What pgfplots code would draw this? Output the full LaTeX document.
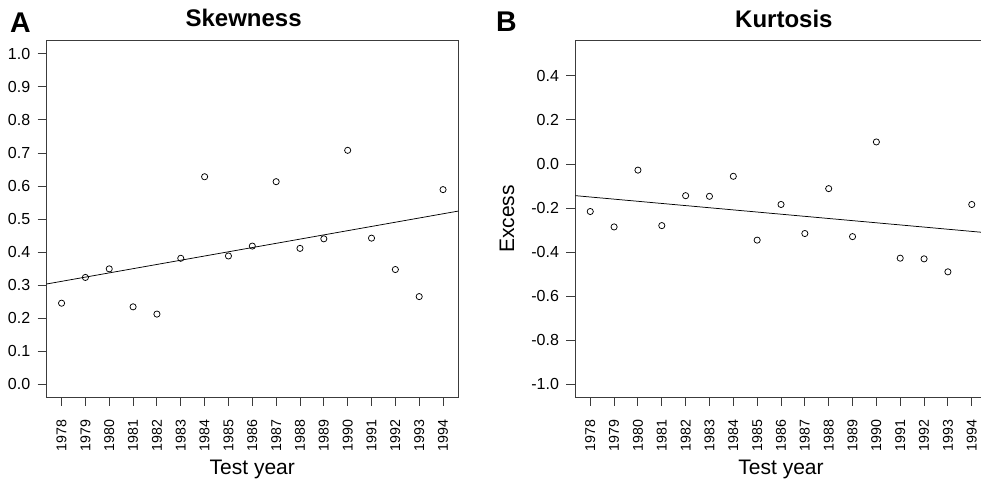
\documentclass[border=0pt]{standalone}
\usepackage{fontspec}
\setmainfont{Liberation Sans}
\usepackage{pgfplots}
\pgfplotsset{compat=1.18}

\definecolor{boxgray}{RGB}{60,60,60}

\pgfplotsset{
  rpanel/.style={
    scale only axis, width=412bp, height=356.6bp,
    anchor=south west,
    axis line style={boxgray, line width=0.9pt},
    tick style={boxgray, line width=0.9pt},
    tick align=outside, major tick length=8.6bp,
    xtick pos=bottom, ytick pos=left,
    xmin=1977.36, xmax=1994.64,
    xtick={1978,...,1994},
    xticklabel shift=10bp, yticklabel shift=4bp,
    xticklabel style={font=\fontsize{14.2bp}{17bp}\selectfont, rotate=90, anchor=east,
      /pgf/number format/.cd, 1000 sep={}, assume math mode=true},
    yticklabel style={font=\fontsize{16bp}{19bp}\selectfont,
      /pgf/number format/.cd, fixed, fixed zerofill, precision=1, assume math mode=true},
    title style={font=\bfseries\fontsize{24bp}{28bp}\selectfont, anchor=base},
    xlabel style={font=\fontsize{21bp}{25bp}\selectfont, anchor=base,
      at={(axis description cs:0.5,-0.2176)}},
    ylabel style={font=\fontsize{21bp}{25bp}\selectfont, anchor=center,
      at={(axis description cs:-0.165,0.5)}},
    xlabel={Test year},
  },
  pts/.style={only marks, mark=o, mark size=3.1bp, mark options={black, line width=0.75pt}},
  fit/.style={black, line width=0.75pt},
}

\begin{document}
\begin{tikzpicture}
\clip (0,0) rectangle (981bp,482bp);

% panel A
\begin{axis}[rpanel, at={(46.3bp,84.7bp)},
  ymin=-0.04, ymax=1.04, ytick={0,0.1,...,1.0},
  title={Skewness}, title style={at={(axis description cs:0.479,1.0236)}}]
  \addplot[fit] coordinates {(1977.36,0.303) (1994.64,0.524)};
  \addplot[pts] coordinates {
    (1978,0.245) (1979,0.323) (1980,0.349) (1981,0.234) (1982,0.212)
    (1983,0.381) (1984,0.628) (1985,0.388) (1986,0.418) (1987,0.613)
    (1988,0.411) (1989,0.440) (1990,0.708) (1991,0.442) (1992,0.347)
    (1993,0.265) (1994,0.589)};
\end{axis}

% panel B
\begin{axis}[rpanel, at={(575bp,84.7bp)},
  ymin=-1.06, ymax=0.56, ytick={-1.0,-0.8,...,0.41},
  ylabel={Excess},
  title={Kurtosis}, title style={at={(axis description cs:0.507,1.0208)}}]
  \addplot[fit] coordinates {(1977.38,-0.144) (1994.64,-0.3125)};
  \addplot[pts] coordinates {
    (1978,-0.216) (1979,-0.286) (1980,-0.028) (1981,-0.280) (1982,-0.144)
    (1983,-0.147) (1984,-0.056) (1985,-0.346) (1986,-0.184) (1987,-0.316)
    (1988,-0.112) (1989,-0.330) (1990,0.100) (1991,-0.428) (1992,-0.431)
    (1993,-0.490) (1994,-0.184)};
\end{axis}

% panel letters
\node[font=\bfseries\fontsize{28.5bp}{31bp}\selectfont, anchor=base west, inner sep=0pt]
  at (10bp,449.7bp) {A};
\node[font=\bfseries\fontsize{28.5bp}{31bp}\selectfont, anchor=base west, inner sep=0pt]
  at (496bp,450.3bp) {B};
\end{tikzpicture}
\end{document}
